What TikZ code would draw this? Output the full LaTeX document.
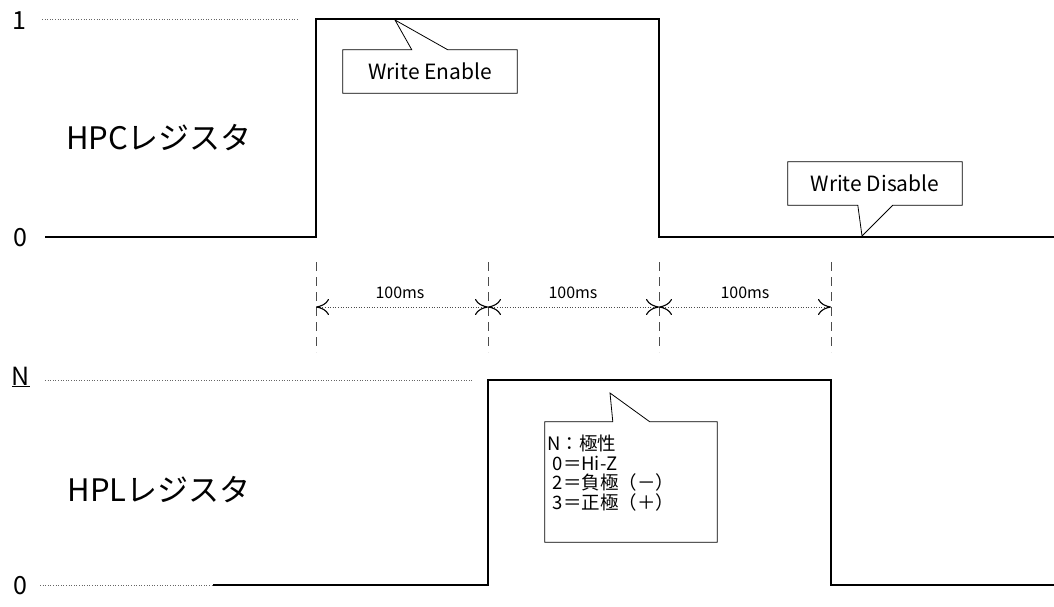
\documentclass[tikz,border=0pt]{standalone}
\usepackage{fontspec}
\setmainfont{Noto Sans CJK JP}
\usetikzlibrary{arrows.meta,calc}
\tikzset{dimtip/.tip={Computer Modern Rightarrow[length=13pt,width=16pt,line width=1.1pt,black]}}
\begin{document}
\begin{tikzpicture}[x=1pt,y=-1pt,
  sig/.style={line width=2.4pt,line join=miter},
  level/.style={line width=0.9pt,dash pattern=on 1pt off 1.6pt,black!60},
  vdash/.style={line width=1pt,dash pattern=on 9pt off 6pt,black!70},
  dim/.style={line width=0.8pt,dash pattern=on 1pt off 1.6pt,black!70,{dimtip}-{dimtip}},
  callout/.style={draw,line width=0.8pt,fill=white},
  lvl/.style={font=\fontsize{25}{30}\selectfont,inner sep=0pt},
  reg/.style={font=\fontsize{31}{36}\selectfont,inner sep=0pt},
  ms/.style={font=\fontsize{16}{18}\selectfont,inner sep=0pt},
  box/.style={minimum width=174pt,minimum height=43pt,inner sep=0pt,font=\fontsize{21}{24}\selectfont}]
\useasboundingbox (0,0) rectangle (1054,606);

% ---------- HPC register ----------
\node[lvl] (one) at (19,21) {1};
\node[lvl] (zeroA) at (20,238) {0};
\node[reg] (hpc) at (159,138) {HPCレジスタ};
\coordinate (one0) at (42,19);
\coordinate (one1) at (298,19);
\draw[level] (one0) -- (one1);
\coordinate (a0) at (45,237);
\coordinate (a1) at (316,237);
\coordinate (a2) at (316,19);
\coordinate (a3) at (659,19);
\coordinate (a4) at (659,237);
\coordinate (a5) at (1054,237);
\draw[sig] (a0) -- (a1) -- (a2) -- (a3) -- (a4) -- (a5);

% Write Enable callout
\node[box] (we) at (430,71.5) {};
\coordinate (wetip) at (395,20);
\draw[callout] (we.south west) -- (we.north west) -- ($(we.north west)+(69,0)$) -- (wetip)
  -- ($(we.north west)+(105,0)$) -- (we.north east) -- (we.south east) -- cycle;
\node[box] (wetext) at (we.center) {Write Enable};

% Write Disable callout
\node[box] (wd) at (875,183.5) {};
\coordinate (wdtip) at (862,236);
\draw[callout] (wd.north west) -- (wd.north east) -- (wd.south east) -- ($(wd.south west)+(105,0)$)
  -- (wdtip) -- ($(wd.south west)+(70,0)$) -- (wd.south west) -- cycle;
\node[box] (wdtext) at (wd.center) {Write Disable};

% ---------- timing ----------
\foreach \n/\x in {1/316,2/488,3/659,4/831}{
  \coordinate (vt\n) at (\x,262);
  \coordinate (vb\n) at (\x,352);
  \coordinate (d\n) at (\x,307);
  \draw[vdash] (vt\n) -- (vb\n);
}
\draw[dim] (d1) -- (d2);
\draw[dim] (d2) -- (d3);
\draw[dim] (d3) -- (d4);
\node[ms] (t1) at (400,293) {100ms};
\node[ms] (t2) at (573,293) {100ms};
\node[ms] (t3) at (745,293) {100ms};

% ---------- HPL register ----------
\node[lvl] (nlev) at (21,377) {\underline{N}};
\node[lvl] (zeroB) at (20,586) {0};
\node[reg] (hpl) at (159,490) {HPLレジスタ};
\coordinate (n0) at (45,380);
\coordinate (n1) at (474,380);
\draw[level] (n0) -- (n1);
\coordinate (z0) at (40,585);
\coordinate (b0) at (213,585);
\draw[level] (z0) -- (b0);
\coordinate (b1) at (488,585);
\coordinate (b2) at (488,380);
\coordinate (b3) at (831,380);
\coordinate (b4) at (831,585);
\coordinate (b5) at (1054,585);
\draw[sig] (b0) -- (b1) -- (b2) -- (b3) -- (b4) -- (b5);

% polarity callout
\node[minimum width=172pt,minimum height=120pt,inner sep=0pt] (pc) at (631,482) {};
\coordinate (pctip) at (610,393);
\draw[callout] (pc.south west) -- (pc.north west) -- ($(pc.north west)+(68,0)$) -- (pctip)
  -- ($(pc.north west)+(105,0)$) -- (pc.north east) -- (pc.south east) -- cycle;
\node[anchor=north west,align=left,inner sep=0pt,font=\fontsize{18.5}{19.5}\selectfont] (pctext) at (547,435)
  {N：極性\\ \hspace*{0.3em}0＝Hi-Z\\ \hspace*{0.3em}2＝負極（－）\\ \hspace*{0.3em}3＝正極（＋）};
\end{tikzpicture}
\end{document}
